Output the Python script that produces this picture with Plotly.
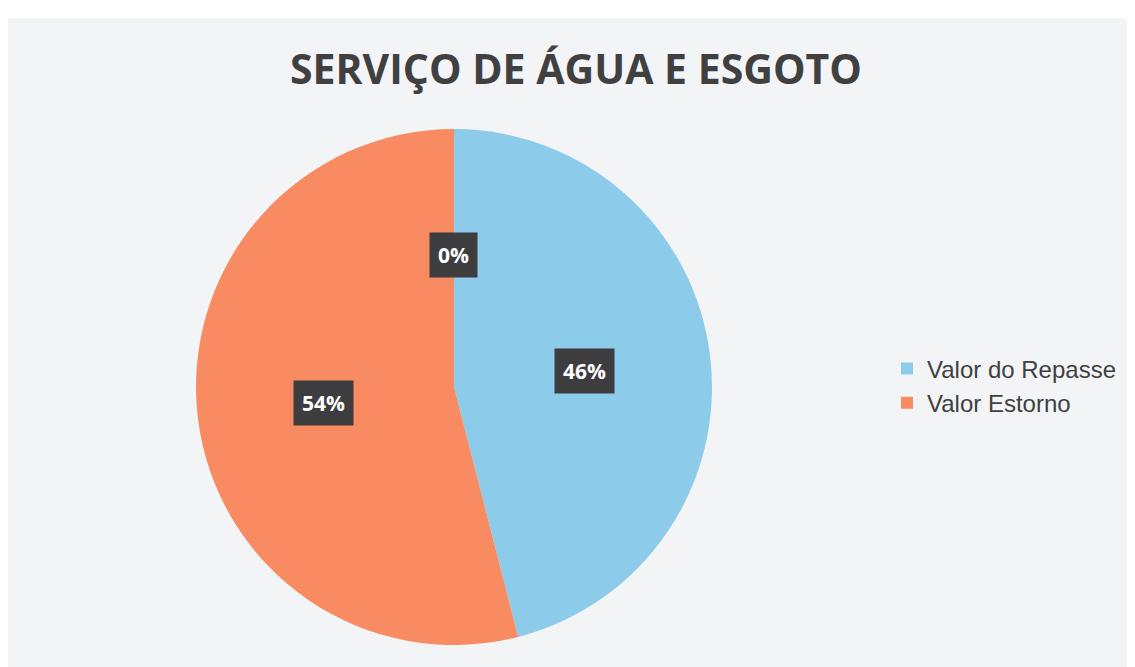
import math
import plotly.graph_objects as go

# ---- data ----
title_text = "SERVIÇO DE ÁGUA E ESGOTO"
categories = ["Valor do Repasse", "Valor Estorno"]
values = [46, 54]
colors = ["#8ccbea", "#f98b62"]
# extra zero-valued category shown only as a data label (not in legend)
extra_categories = [""]
extra_values = [0]

# page has an 8px body margin; work in page pixels and convert
OFF = 8
W, H = 1135 - OFF, 667 - OFF


def px(x):
    return (x - OFF) / W


def py(y):
    return 1 - (y - OFF) / H


cx, cy, R = 454, 387, 258  # pixel geometry of the pie (page coords)

fig = go.Figure()

fig.add_trace(go.Pie(
    labels=categories,
    values=values,
    marker=dict(colors=colors, line=dict(width=0)),
    sort=False,
    direction="clockwise",
    rotation=0,
    textinfo="none",
    hoverinfo="label+percent",
    domain=dict(x=[px(cx - R), px(cx + R)],
                y=[py(cy + R), py(cy - R)]),
    showlegend=True,
))

# data labels (boxed), positions derived from slice angles
all_vals = values + extra_values
total = sum(all_vals)
cum = 0
label_r = 0.51 * R
anns = []
for v in all_vals:
    frac_mid = (cum + v / 2) / total
    cum += v
    th = 2 * math.pi * frac_mid
    lx = cx + label_r * math.sin(th)
    ly = cy - label_r * math.cos(th)
    pct = round(100 * v / total)
    anns.append(dict(
        x=px(lx), y=py(ly), xref="paper", yref="paper",
        xanchor="center", yanchor="middle",
        text=f"<b>{pct}%</b>", showarrow=False,
        font=dict(family="Open Sans", size=21, color="white"),
        bgcolor="#3d3d3f", borderpad=8,
    ))

anns.append(dict(
    x=px(576), y=py(68), xref="paper", yref="paper",
    xanchor="center", yanchor="middle",
    text=f"<b>{title_text}</b>", showarrow=False,
    font=dict(family="Open Sans", size=41, color="#404040"),
))

fig.update_layout(
    width=W, height=H,
    margin=dict(l=0, r=0, t=0, b=0),
    paper_bgcolor="white",
    annotations=anns,
    shapes=[dict(type="rect", xref="paper", yref="paper",
                 x0=0, x1=1, y0=0, y1=py(18),
                 fillcolor="#f3f4f6", line=dict(width=0), layer="below")],
    legend=dict(x=px(887), y=py(386), xanchor="left", yanchor="middle",
                font=dict(family="Liberation Sans", size=24, color="#404040"),
                bgcolor="rgba(0,0,0,0)"),
)

fig.write_html("out.html")
